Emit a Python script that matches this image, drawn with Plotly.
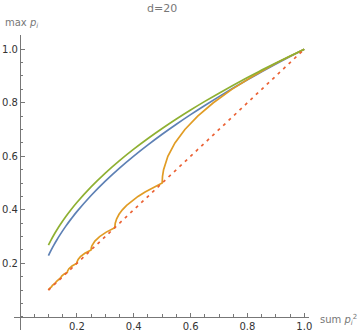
import plotly.graph_objects as go

# Values
s_grid = [0.10, 0.11, 0.12, 0.13, 0.14, 0.16, 0.18, 0.20, 0.25, 0.30, 0.35, 0.40,
          0.45, 0.50, 0.55, 0.60, 0.65, 0.70, 0.75, 0.80, 0.85, 0.90, 0.95, 1.00]
green_vals = [0.2679, 0.2887, 0.3079, 0.3257, 0.3424, 0.3733, 0.4014, 0.4275, 0.4859,
              0.5373, 0.5839, 0.6266, 0.6664, 0.7038, 0.7392, 0.7728, 0.8050, 0.8358,
              0.8655, 0.8941, 0.9218, 0.9486, 0.9747, 1.0]
blue_vals = [0.2292, 0.2504, 0.2701, 0.2883, 0.3054, 0.3372, 0.3661, 0.3931, 0.4536,
             0.5072, 0.5559, 0.6008, 0.6427, 0.6823, 0.7198, 0.7556, 0.7899, 0.8229,
             0.8547, 0.8855, 0.9153, 0.9443, 0.9725, 1.0]

orange_s = [0.1, 0.10025, 0.101778, 0.105444, 0.111111,
            0.111424, 0.113333, 0.117917, 0.125,
            0.125402, 0.127857, 0.13375, 0.142857,
            0.143393, 0.146667, 0.154524, 0.166667,
            0.16742, 0.172, 0.183, 0.2,
            0.2005, 0.2045, 0.2125, 0.228125, 0.25,
            0.25083, 0.25333, 0.26333, 0.28, 0.30333, 0.33333,
            0.335, 0.34, 0.34833, 0.36, 0.375, 0.39333, 0.415, 0.44, 0.46833, 0.5,
            0.50125, 0.505, 0.52, 0.545, 0.58, 0.625, 0.68, 0.745, 0.82, 0.905, 1.0]
orange_v = [0.1, 0.101667, 0.104444, 0.107778, 0.111111,
            0.113194, 0.116667, 0.120833, 0.125,
            0.127679, 0.132143, 0.1375, 0.142857,
            0.146429, 0.152381, 0.159524, 0.166667,
            0.17167, 0.18, 0.19, 0.2,
            0.205, 0.215, 0.225, 0.2375, 0.25,
            0.25833, 0.26667, 0.28333, 0.3, 0.31667, 0.33333,
            0.35, 0.36667, 0.38333, 0.4, 0.41667, 0.43333, 0.45, 0.46667, 0.48333, 0.5,
            0.525, 0.55, 0.6, 0.65, 0.7, 0.75, 0.8, 0.85, 0.9, 0.95, 1.0]

diag_s = [0.1, 1.0]
diag_v = [0.1, 1.0]

tick_vals = [0.2, 0.4, 0.6, 0.8, 1.0]
tick_text = ["0.2", "0.4", "0.6", "0.8", "1.0"]

BLUE = "#5E81B5"
ORANGE = "#E19C24"
GREEN = "#8FB032"
RED = "#EB6235"
LW = 1.7

fig = go.Figure()
fig.add_trace(go.Scatter(x=s_grid, y=blue_vals, mode="lines",
                         line=dict(color=BLUE, width=LW, shape="spline")))
fig.add_trace(go.Scatter(x=orange_s, y=orange_v, mode="lines",
                         line=dict(color=ORANGE, width=LW)))
fig.add_trace(go.Scatter(x=s_grid, y=green_vals, mode="lines",
                         line=dict(color=GREEN, width=LW, shape="spline")))
fig.add_trace(go.Scatter(x=diag_s, y=diag_v, mode="lines",
                         line=dict(color=RED, width=LW, dash="3px,4.5px")))

L, R, T, B = 14, 51, 35, 3
xr = [-0.0211, 1.0165]
yr = [-0.049, 1.053]
axis_gray = "#777777"
tickfont = dict(family="DejaVu Sans", size=10, color="#333333")

fig.update_layout(
    width=360, height=333,
    margin=dict(l=L, r=R, t=T, b=B, pad=0),
    paper_bgcolor="white", plot_bgcolor="white",
    showlegend=False,
    xaxis=dict(range=xr, showgrid=False, zeroline=False, showline=True,
               linecolor=axis_gray, linewidth=1,
               anchor="free", position=(0 - yr[0]) / (yr[1] - yr[0]),
               tickmode="array", tickvals=tick_vals, ticktext=tick_text,
               ticks="inside", ticklen=4, tickcolor=axis_gray, tickwidth=1,
               minor=dict(tickmode="linear", tick0=0, dtick=0.05, ticks="inside",
                          ticklen=2.5, tickcolor=axis_gray, tickwidth=1),
               tickfont=tickfont, automargin=False, fixedrange=True),
    yaxis=dict(range=yr, showgrid=False, zeroline=False, showline=True,
               linecolor=axis_gray, linewidth=1,
               anchor="free", position=(0 - xr[0]) / (xr[1] - xr[0]),
               tickmode="array", tickvals=tick_vals, ticktext=tick_text,
               ticks="inside", ticklen=4, tickcolor=axis_gray, tickwidth=1,
               minor=dict(tickmode="linear", tick0=0, dtick=0.05, ticks="inside",
                          ticklen=2.5, tickcolor=axis_gray, tickwidth=1),
               tickfont=tickfont, automargin=False, fixedrange=True),
)

W = 360 - L - R
H = 333 - T - B
lab_font = dict(family="DejaVu Sans", size=10, color="#777777")
fig.add_annotation(text="d=20", xref="paper", yref="paper",
                   x=(162 - L) / W, y=(333 - B - 8) / H, xanchor="center", yanchor="middle",
                   showarrow=False, font=dict(family="DejaVu Sans", size=11, color="#777777"))
fig.add_annotation(text="max <i>p</i><sub><i>i</i></sub>", xref="paper", yref="paper",
                   x=(3 - L) / W, y=(333 - B - 24) / H, xanchor="left", yanchor="middle",
                   showarrow=False, font=lab_font)
fig.add_annotation(text="sum <i>p</i><sub><i>i</i></sub><sup>2</sup>", xref="paper", yref="paper",
                   x=(318 - L) / W, y=(333 - B - 320) / H, xanchor="left", yanchor="middle",
                   showarrow=False, font=lab_font)

fig.write_html("out.html")
